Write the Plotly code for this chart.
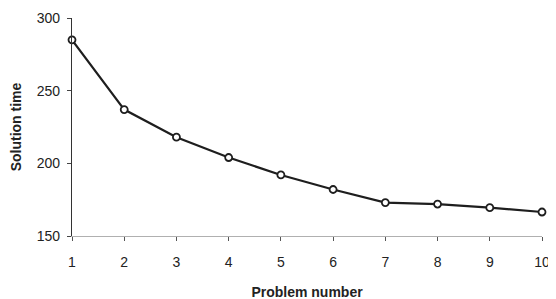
import plotly.graph_objects as go

problem_number = [1, 2, 3, 4, 5, 6, 7, 8, 9, 10]
solution_time = [285, 237, 218, 204, 192, 182, 173, 172, 169.5, 166.5]
y_ticks = [150, 200, 250, 300]

fnt = "Liberation Sans, Arial, sans-serif"

fig = go.Figure()
fig.add_trace(go.Scatter(
    x=problem_number, y=solution_time, mode="lines+markers",
    line=dict(color="#1e1e1e", width=2.2),
    marker=dict(symbol="circle", size=7, color="white",
                line=dict(color="#1e1e1e", width=1.8)),
    cliponaxis=False, showlegend=False,
))

fig.update_layout(
    width=556, height=299,
    margin=dict(l=64, r=22, t=10, b=71),
    paper_bgcolor="white", plot_bgcolor="white",
    font=dict(family=fnt, size=14, color="#222"),
)
fig.update_xaxes(
    range=[1, 10], tickvals=problem_number, showgrid=False, zeroline=False,
    showline=True, linecolor="#b0b0b0", linewidth=1,
    ticks="outside", ticklen=4, tickcolor="#555", tickwidth=1,
    ticklabelstandoff=9, automargin=False,
    tickfont=dict(family=fnt, size=14, color="#222"),
    title=dict(text="<b>Problem number</b>", standoff=18,
               font=dict(family=fnt, size=14, color="#222")),
)
fig.update_yaxes(
    range=[150, 300], tickvals=y_ticks, showgrid=False, zeroline=False,
    showline=True, linecolor="#333", linewidth=1.3,
    ticks="outside", ticklen=4, tickcolor="#444", tickwidth=1,
    ticklabelstandoff=4, automargin=False,
    tickfont=dict(family=fnt, size=14, color="#222"),
    title=dict(text="<b>Solution time</b>", standoff=19,
               font=dict(family=fnt, size=14, color="#222")),
)

fig.write_html("out.html")
